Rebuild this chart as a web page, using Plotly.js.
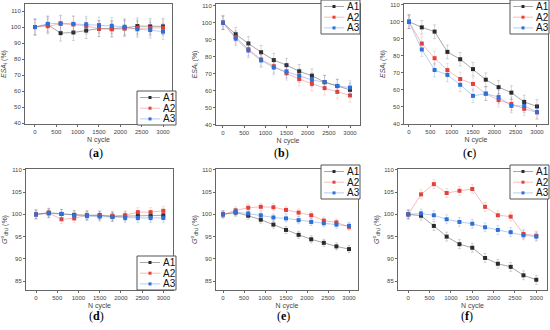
<!DOCTYPE html>
<html><head><meta charset="utf-8">
<script src="https://cdn.plot.ly/plotly-3.0.1.min.js"></script>
<style>html,body{margin:0;padding:0;background:#fff}#c{width:550px;height:330px}</style>
</head><body><div id="c"></div>
<script>
const cycles = [0,300,600,900,1200,1500,1800,2100,2400,2700,3000];
const seriesNames = ['A1','A2','A3'];
// (a) ESA_i
const a_A1 = [100,101.5,96.2,96.6,97.8,99.0,99.0,99.5,100.6,100.4,100.4];
const a_A2 = [100,100.5,102.0,101.6,100.6,99.0,98.6,99.0,99.4,99.4,99.5];
const a_A3 = [100,102.0,102.4,102.0,101.7,101.2,100.8,100.2,98.6,98.1,97.1];
// (b) ESA_i
const b_A1 = [100,93.2,87.8,82.6,78.0,75.0,71.4,68.8,65.0,62.7,60.5];
const b_A2 = [100,91.5,84.4,78.4,74.4,70.2,66.8,64.0,61.5,59.3,57.2];
const b_A3 = [100,90.6,83.6,77.8,73.6,71.4,68.8,66.3,65.0,62.8,61.8];
// (c) ESA_i
const c_A1 = [100,96.7,94.2,82.3,78.0,72.2,66.0,61.6,58.4,52.9,50.3];
const c_A2 = [100,87.2,78.6,71.6,66.4,63.5,57.8,54.0,51.8,48.9,46.8];
const c_A3 = [100,83.7,71.7,68.8,63.0,56.5,57.8,55.8,50.6,50.6,47.0];
// (d) G_dh,i
const d_A1 = [100,100.4,100.1,99.9,99.8,99.8,99.5,99.6,99.7,99.7,99.8];
const d_A2 = [100,100.3,98.9,99.1,99.8,99.7,99.7,99.8,100.5,100.5,100.8];
const d_A3 = [100,100.2,100.1,99.8,99.6,99.5,99.4,99.2,99.2,99.2,99.2];
// (e) G_dh,i
const e_A1 = [100,100.4,99.7,98.8,97.7,96.5,95.4,94.4,93.6,92.8,92.2];
const e_A2 = [100,100.9,101.5,101.7,101.6,101.0,100.4,99.8,98.6,98.2,97.2];
const e_A3 = [100,100.5,100.2,99.8,99.3,99.1,98.7,98.3,98.0,97.7,97.4];
// (f) G_dh,i
const f_A1 = [100,99.7,97.4,95.0,93.3,92.5,90.2,88.9,88.2,86.3,85.3];
const f_A2 = [100,104.5,106.8,104.8,105.3,105.7,101.7,99.8,99.5,95.6,95.2];
const f_A3 = [100,100.2,99.8,98.9,98.3,97.9,97.1,96.5,96.0,95.3,95.0];
// error bar half-widths per panel
const errA = [5,5,5]; const errB = [4,4,4]; const errC = [4,4,4];
const errD = [1,1,1]; const errE = [0.8,0.8,0.8]; const errF = [1,1,1];
const panelLabels = ['a','b','c','d','e','f'];
const xTicks = [0,500,1000,1500,2000,2500,3000];

const markerCol = ['#2a2a2a','#e5413b','#2e6fd8'];
const lineCol = ['rgba(60,60,60,0.45)','rgba(229,65,59,0.35)','rgba(46,111,216,0.35)'];
const errCol = ['rgba(0,0,0,0.16)','rgba(229,65,59,0.18)','rgba(46,111,216,0.22)'];

const panels = [
  {data:[a_A1,a_A2,a_A3], err:errA, xd:[25,172], yd:[4,124], xr:[-234,3211], yr:[39.4,114.4], dy:10, top:true, lg:[137,91]},
  {data:[b_A1,b_A2,b_A3], err:errB, xd:[216,360], yd:[4,125], xr:[-165,3236], yr:[39.8,111], dy:10, top:true, lg:[321,0]},
  {data:[c_A1,c_A2,c_A3], err:errC, xd:[404,548], yd:[4,124], xr:[-117,3258], yr:[40,110.4], dy:10, top:true, lg:[510,0]},
  {data:[d_A1,d_A2,d_A3], err:errD, xd:[26,173], yd:[169,290], xr:[-236,3228], yr:[83,110.2], dy:5, top:false, lg:[137,256]},
  {data:[e_A1,e_A2,e_A3], err:errE, xd:[216,358], yd:[169,290], xr:[-167,3214], yr:[83,110.2], dy:5, top:false, lg:[321,165]},
  {data:[f_A1,f_A2,f_A3], err:errF, xd:[398,547], yd:[169,290], xr:[-240,3251], yr:[83,110.2], dy:5, top:false, lg:[510,165]}
];
const W=550,H=330;
const px=v=>v/W, py=v=>1-v/H;
const traces=[]; const layout={width:W,height:H,margin:{l:0,r:0,t:0,b:0},paper_bgcolor:'#fff',plot_bgcolor:'#fff',showlegend:false,annotations:[],shapes:[]};
const labelPos=[[96,153],[281,153],[469,153],[96,316],[283,316],[467,316]];
panels.forEach((p,i)=>{
  const n=i+1; const xa='x'+(n===1?'':n), ya='y'+(n===1?'':n);
  seriesNames.forEach((s,k)=>{
    traces.push({x:cycles,y:p.data[k],xaxis:xa,yaxis:ya,name:s,type:'scatter',mode:'lines+markers',
      line:{color:lineCol[k],width:1},marker:{symbol:'square',size:4,color:markerCol[k]},
      error_y:{type:'constant',value:p.err[k],color:errCol[k],thickness:1,width:1.5}});
  });
  const axCommon={showline:true,linecolor:'#666',linewidth:1,mirror:true,ticks:'outside',ticklen:2,tickcolor:'#666',
    tickfont:{size:6,color:'#444',family:'Liberation Sans, Arial'},showgrid:false,zeroline:false,fixedrange:true};
  layout['xaxis'+(n===1?'':n)]=Object.assign({},axCommon,{domain:[px(p.xd[0]),px(p.xd[1])],range:p.xr,anchor:ya,
    tickvals:xTicks,title:{text:'N cycle',font:{size:7,color:'#444',family:'Liberation Sans, Arial'},standoff:2}});
  const ytxt = p.top ? '<i>ESA</i><sub>i</sub> (%)' : '<i>G</i><sup>o</sup><sub>dh,i</sub> (%)';
  layout['yaxis'+(n===1?'':n)]=Object.assign({},axCommon,{domain:[py(p.yd[1]),py(p.yd[0])],range:p.yr,anchor:xa,
    dtick:p.dy,tick0:0,title:{text:ytxt,font:{size:7,color:'#444',family:'Liberation Sans, Arial'},standoff:3}});
  // legend box (drawn as decoration)
  const L=p.lg[0], T=p.lg[1], BW=39, BH=34;
  layout.shapes.push({type:'rect',xref:'paper',yref:'paper',x0:px(L),x1:px(L+BW),y0:py(T+BH),y1:py(T),
    line:{color:'#555',width:1},fillcolor:'#fff',layer:'above'});
  seriesNames.forEach((s,k)=>{
    const yy=T+6.5+k*10.7;
    layout.shapes.push({type:'line',xref:'paper',yref:'paper',x0:px(L+3),x1:px(L+23),y0:py(yy),y1:py(yy),
      line:{color:lineCol[k],width:1},layer:'above'});
    layout.shapes.push({type:'rect',xref:'paper',yref:'paper',x0:px(L+11.5),x1:px(L+14.5),y0:py(yy+1.5),y1:py(yy-1.5),
      line:{width:0},fillcolor:markerCol[k],layer:'above'});
    layout.annotations.push({xref:'paper',yref:'paper',x:px(L+24),y:py(yy),xanchor:'left',yanchor:'middle',showarrow:false,
      text:s,font:{size:10,color:'#111',family:'Liberation Sans, Arial'}});
  });
  layout.annotations.push({xref:'paper',yref:'paper',x:px(labelPos[i][0]),y:py(labelPos[i][1]),xanchor:'center',yanchor:'middle',
    showarrow:false,text:'(<b>'+panelLabels[i]+'</b>)',font:{size:12,color:'#000',family:'Liberation Serif, Times New Roman'}});
});
Plotly.newPlot('c',traces,layout,{staticPlot:true,displayModeBar:false});
</script></body></html>
